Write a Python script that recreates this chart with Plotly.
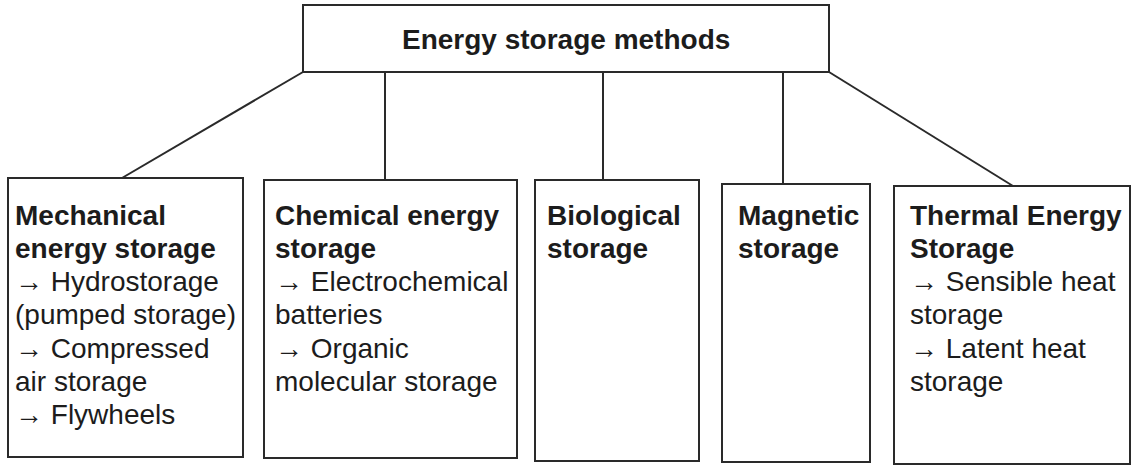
import plotly.graph_objects as go

# ---- content ----
root_label = "Energy storage methods"
category_titles = [
    ["Mechanical", "energy storage"],
    ["Chemical energy", "storage"],
    ["Biological", "storage"],
    ["Magnetic", "storage"],
    ["Thermal Energy", "Storage"],
]
category_items = [
    ["→ Hydrostorage", "(pumped storage)", "→ Compressed", "air storage", "→ Flywheels"],
    ["→ Electrochemical", "batteries", "→ Organic", "molecular storage"],
    [],
    [],
    ["→ Sensible heat", "storage", "→ Latent heat", "storage"],
]

# ---- layout geometry (pixel space of the page) ----
W, H = 1134, 468
root_box = (303, 5, 829, 72)  # x0, y0, x1, y1
child_boxes = [
    (8, 178, 243, 457),
    (264, 180, 517, 458),
    (535, 180, 699, 461),
    (722, 184, 870, 462),
    (894, 186, 1130, 464),
]
conn_start_x = [303, 385, 603, 783, 829]
conn_end_x = [122, 385, 603, 783, 1013]

text_left = [13, 273, 545, 736, 908]
first_line_y = 215
line_step = 33.3
FS = 28
LINE = "#2a2a2a"
TXT = "#1c1c1c"
FONT = "Liberation Sans, Arial, Helvetica, sans-serif"

fig = go.Figure()
shapes = []
annotations = []

def box(b):
    return dict(type="rect", xref="x", yref="y", x0=b[0], y0=b[1], x1=b[2], y1=b[3],
                line=dict(color=LINE, width=2), fillcolor="rgba(0,0,0,0)", layer="above")

shapes.append(box(root_box))
for b in child_boxes:
    shapes.append(box(b))
for sx, ex, b in zip(conn_start_x, conn_end_x, child_boxes):
    shapes.append(dict(type="line", xref="x", yref="y", x0=sx, y0=root_box[3], x1=ex, y1=b[1],
                       line=dict(color=LINE, width=2)))

annotations.append(dict(x=(root_box[0] + root_box[2]) / 2, y=(root_box[1] + root_box[3]) / 2 + 1,
                        xref="x", yref="y", text="<b>" + root_label + "</b>", showarrow=False,
                        xanchor="center", yanchor="middle", font=dict(size=FS, color=TXT, family=FONT)))

for i in range(len(child_boxes)):
    lines = [("<b>" + t + "</b>") for t in category_titles[i]] + category_items[i]
    for j, t in enumerate(lines):
        annotations.append(dict(x=text_left[i], y=first_line_y + j * line_step, xref="x", yref="y",
                                text=t, showarrow=False, xanchor="left", yanchor="middle",
                                font=dict(size=FS, color=TXT, family=FONT)))

fig.update_layout(
    width=W, height=H,
    margin=dict(l=0, r=0, t=0, b=0),
    paper_bgcolor="white", plot_bgcolor="white",
    xaxis=dict(range=[0, W], visible=False, fixedrange=True),
    yaxis=dict(range=[H, 0], visible=False, fixedrange=True),
    shapes=shapes, annotations=annotations, showlegend=False,
)
fig.write_html("out.html",
               config={"displayModeBar": False},
               post_script="document.body.style.margin='0';document.body.style.overflow='hidden';")
